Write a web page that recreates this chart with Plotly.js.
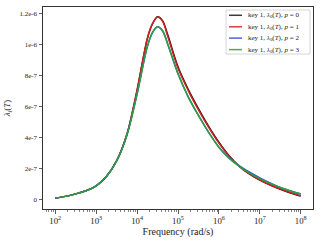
<!DOCTYPE html>
<html>
<head>
<meta charset="utf-8">
<script src="https://cdn.plot.ly/plotly-3.0.1.min.js"></script>
<style>html,body{margin:0;padding:0;background:#fff;}#chart{width:320px;height:240px;}</style>
</head>
<body>
<div id="chart"></div>
<script>
// Frequency (rad/s)
var frequency = [100, 178, 316, 562, 1000, 1778, 3162, 5623, 10000, 17783, 23714, 31623, 42170, 56234, 100000, 177828, 316228, 562341, 1000000, 1778279, 3162278, 5623413, 10000000, 17782794, 31622777, 56234133, 100000000];

var p0 = [0.11e-7, 0.22e-7, 0.38e-7, 0.58e-7, 0.90e-7, 1.50e-7, 2.51e-7, 4.20e-7, 7.05e-7, 10.35e-7, 11.3e-7, 11.76e-7, 11.5e-7, 10.6e-7, 8.55e-7, 7.1e-7, 5.86e-7, 4.72e-7, 3.7e-7, 2.83e-7, 2.15e-7, 1.65e-7, 1.26e-7, 0.95e-7, 0.68e-7, 0.44e-7, 0.24e-7];
var p1 = [0.11e-7, 0.22e-7, 0.38e-7, 0.58e-7, 0.90e-7, 1.50e-7, 2.51e-7, 4.20e-7, 7.05e-7, 10.35e-7, 11.3e-7, 11.74e-7, 11.45e-7, 10.5e-7, 8.45e-7, 7.02e-7, 5.78e-7, 4.65e-7, 3.64e-7, 2.8e-7, 2.14e-7, 1.66e-7, 1.28e-7, 0.97e-7, 0.70e-7, 0.46e-7, 0.26e-7];
var p2 = [0.11e-7, 0.22e-7, 0.38e-7, 0.58e-7, 0.90e-7, 1.50e-7, 2.50e-7, 4.15e-7, 6.8e-7, 9.85e-7, 10.75e-7, 11.12e-7, 10.85e-7, 10.0e-7, 8.1e-7, 6.62e-7, 5.42e-7, 4.33e-7, 3.38e-7, 2.69e-7, 2.18e-7, 1.77e-7, 1.41e-7, 1.09e-7, 0.80e-7, 0.57e-7, 0.37e-7];
var p3 = [0.11e-7, 0.22e-7, 0.38e-7, 0.58e-7, 0.90e-7, 1.50e-7, 2.50e-7, 4.15e-7, 6.8e-7, 9.85e-7, 10.75e-7, 11.12e-7, 10.85e-7, 10.0e-7, 8.1e-7, 6.62e-7, 5.42e-7, 4.33e-7, 3.38e-7, 2.66e-7, 2.15e-7, 1.72e-7, 1.36e-7, 1.06e-7, 0.79e-7, 0.57e-7, 0.37e-7];

var seriesNames = ['key 1, <i>λ</i><sub>0</sub>(<i>T</i>), <i>p</i> = 0',
                   'key 1, <i>λ</i><sub>0</sub>(<i>T</i>), <i>p</i> = 1',
                   'key 1, <i>λ</i><sub>0</sub>(<i>T</i>), <i>p</i> = 2',
                   'key 1, <i>λ</i><sub>0</sub>(<i>T</i>), <i>p</i> = 3'];
var seriesColors = ['#1a1a1a', '#d41f1f', '#2a4fd0', '#2f9e3c'];
var seriesValues = [p0, p1, p2, p3];

var yTickVals = [0, 2e-7, 4e-7, 6e-7, 8e-7, 1e-6, 1.2e-6];
var yTickText = ['0', '2e-7', '4e-7', '6e-7', '8e-7', '1e-6', '1.2e-6'];

var serif = "'Liberation Serif', 'DejaVu Serif', serif";

var traces = seriesValues.map(function (v, i) {
  return {
    x: frequency, y: v, type: 'scatter', mode: 'lines', name: seriesNames[i],
    line: {color: seriesColors[i], width: 1.5, shape: 'spline', smoothing: 0.9},
    showlegend: false
  };
});

// compact legend drawn in paper coordinates
var rowsY = [0.959, 0.902, 0.846, 0.789];
var shapes = [{
  type: 'rect', xref: 'paper', yref: 'paper', x0: 0.678, x1: 0.989, y0: 0.767, y1: 0.985,
  line: {color: '#cccccc', width: 0.8}, fillcolor: 'rgba(255,255,255,0.9)', layer: 'above'
}];
var annotations = [];
seriesNames.forEach(function (n, i) {
  shapes.push({type: 'line', xref: 'paper', yref: 'paper', x0: 0.689, x1: 0.737, y0: rowsY[i], y1: rowsY[i],
    line: {color: seriesColors[i], width: 1.5}, layer: 'above', opacity: 0.85});
  annotations.push({xref: 'paper', yref: 'paper', x: 0.750, y: rowsY[i], xanchor: 'left', yanchor: 'middle',
    text: n, showarrow: false, font: {family: serif, size: 7, color: '#222'}});
});

var layout = {
  width: 320, height: 240,
  margin: {l: 43, r: 7, t: 7, b: 31, pad: 0},
  paper_bgcolor: '#fff', plot_bgcolor: '#fff',
  font: {family: serif, size: 7, color: '#222'},
  xaxis: {
    type: 'log', range: [1.7, 8.3], dtick: 1, exponentformat: 'power',
    showgrid: false, zeroline: false,
    showline: true, mirror: true, linecolor: '#333', linewidth: 1,
    ticks: 'outside', ticklen: 3.5, tickwidth: 0.8, tickcolor: '#333',
    minor: {ticks: 'outside', ticklen: 2, tickwidth: 0.6, tickcolor: '#333', dtick: 'D1', showgrid: false},
    tickfont: {family: serif, size: 7, color: '#222'},
    title: {text: 'Frequency (rad/s)', font: {family: serif, size: 10, color: '#222'}, standoff: 1}
  },
  yaxis: {
    range: [-0.059e-6, 1.239e-6],
    tickvals: yTickVals, ticktext: yTickText,
    showgrid: false, zeroline: false,
    showline: true, mirror: true, linecolor: '#333', linewidth: 1,
    ticks: 'outside', ticklen: 3.5, tickwidth: 0.8, tickcolor: '#333',
    tickfont: {family: serif, size: 7, color: '#222'},
    title: {text: '<i>λ<sub>i</sub></i>(<i>T</i>)', font: {family: serif, size: 9, color: '#222'}, standoff: 7}
  },
  shapes: shapes,
  annotations: annotations
};

Plotly.newPlot('chart', traces, layout, {staticPlot: true, displayModeBar: false});
</script>
</body>
</html>
